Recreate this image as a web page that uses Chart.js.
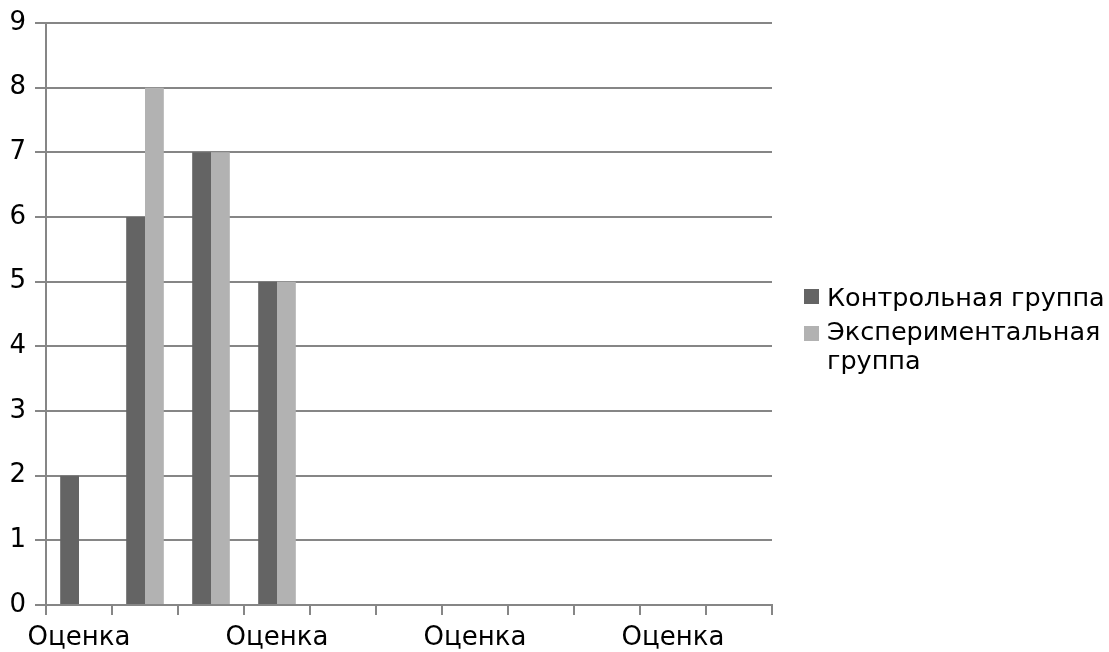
<!DOCTYPE html>
<html>
<head>
<meta charset="utf-8">
<script src="https://cdn.jsdelivr.net/npm/chart.js@4.4.0/dist/chart.umd.min.js"></script>
<style>
  html, body { margin: 0; padding: 0; background: #ffffff; }
  #wrap { position: relative; width: 1109px; height: 652px; }
  #chart { position: absolute; left: 0; top: 0; }
  #legend { position: absolute; left: 804px; top: 283px; width: 305px;
            font-family: "DejaVu Sans", sans-serif; font-size: 25.5px; color: #000; }
  .item { position: relative; padding-left: 23px; line-height: 29px; margin-bottom: 5px; }
  .box { position: absolute; left: 0; top: 6px; width: 15px; height: 15px; }
  .item + .item .box { top: 9px; }
</style>
</head>
<body>
<div id="wrap">
  <canvas id="chart" width="1109" height="652"></canvas>
  <div id="legend"></div>
</div>
<script>
// Grade categories along the horizontal axis
const categories = ['Оценка', 'Оценка', 'Оценка', 'Оценка', 'Оценка', 'Оценка',
                    'Оценка', 'Оценка', 'Оценка', 'Оценка', 'Оценка'];
// Number of students per grade in each group
const controlGroup = [2, 6, 7, 5, 0, 0, 0, 0, 0, 0, 0];
const experimentalGroup = [0, 8, 7, 5, 0, 0, 0, 0, 0, 0, 0];
const seriesNames = ['Контрольная группа', 'Экспериментальная группа'];
const yTicks = [0, 1, 2, 3, 4, 5, 6, 7, 8, 9];

const colors = ['#646464', '#b2b2b2'];
const gridColor = '#868686';
const font = { family: 'DejaVu Sans', size: 26 };

const chart = new Chart(document.getElementById('chart'), {
  type: 'bar',
  data: {
    labels: categories,
    datasets: [
      { label: seriesNames[0], data: controlGroup, backgroundColor: colors[0],
        barPercentage: 1, categoryPercentage: 0.57 },
      { label: seriesNames[1], data: experimentalGroup, backgroundColor: colors[1],
        barPercentage: 1, categoryPercentage: 0.57 }
    ]
  },
  options: {
    responsive: false,
    animation: false,
    layout: { padding: { left: 0, right: 337, top: 23, bottom: 0 } },
    plugins: { legend: { display: false }, tooltip: { enabled: false } },
    scales: {
      x: {
        offset: true,
        grid: { offset: true, drawOnChartArea: false, drawTicks: true, tickLength: 10,
                color: gridColor, lineWidth: 2 },
        border: { color: gridColor, width: 2 },
        ticks: {
          autoSkip: false, maxRotation: 0, padding: 8, color: '#000', font,
          callback: (v, i) => (i % 3 === 0 ? categories[i] : '')
        },
        afterFit: (s) => { s.height = 47; s.paddingLeft = 0; s.paddingRight = 0; }
      },
      y: {
        min: yTicks[0], max: yTicks[yTicks.length - 1],
        afterBuildTicks: (s) => { s.ticks = yTicks.map(v => ({ value: v })); },
        grid: { color: gridColor, lineWidth: 2, tickLength: 11 },
        border: { color: gridColor, width: 2 },
        ticks: { padding: 9, color: '#000', font },
        afterFit: (s) => { s.width = 46; s.paddingTop = 0; s.paddingBottom = 0; }
      }
    }
  }
});

// Legend to the right of the plot
const legend = document.getElementById('legend');
chart.data.datasets.forEach((ds) => {
  const item = document.createElement('div');
  item.className = 'item';
  const box = document.createElement('span');
  box.className = 'box';
  box.style.background = ds.backgroundColor;
  item.appendChild(box);
  item.appendChild(document.createTextNode(ds.label));
  legend.appendChild(item);
});
</script>
</body>
</html>
